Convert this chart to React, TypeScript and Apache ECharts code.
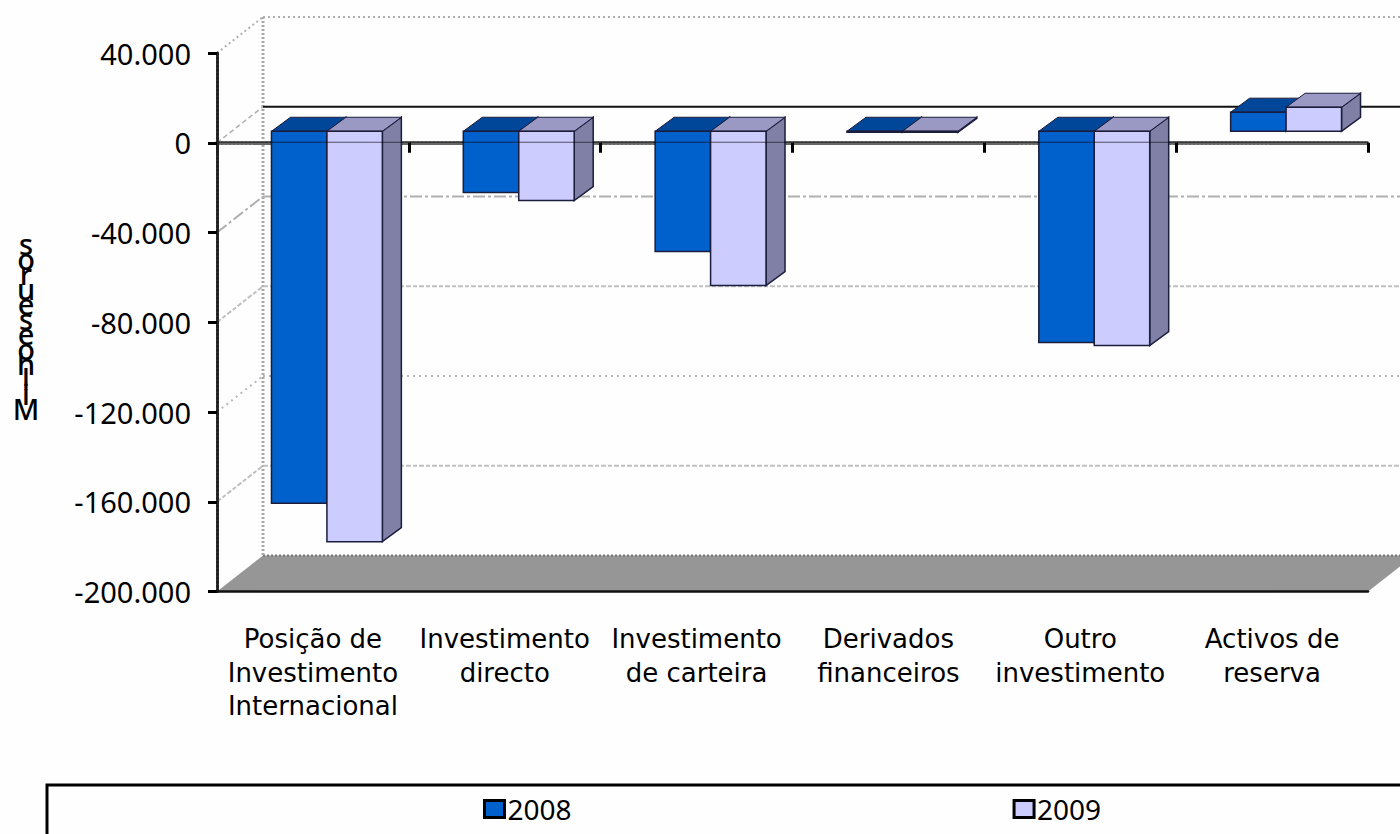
import React, { useEffect, useRef } from "react";
import * as echarts from "echarts";

const categories = [
  "Posição de\nInvestimento\nInternacional",
  "Investimento\ndirecto",
  "Investimento\nde carteira",
  "Derivados\nfinanceiros",
  "Outro\ninvestimento",
  "Activos de\nreserva",
];
const values2008 = [-165800, -27300, -53600, -500, -94200, 8500];
const values2009 = [-182900, -30900, -68800, -500, -95500, 10700];
const yTicks = [40000, 0, -40000, -80000, -120000, -160000, -200000];
const yTitle = "s\no\nr\nu\ne\ns\ne\no\nh\nl\ni\nM";
const FONT = "'DejaVu Sans'";
const NUM_FONT = "'Noto Sans'";

const WALL_DX = 46;
const WALL_DY = -36;
const PLANE_DY = -11.5;
const BAR_SHIFT = 14;
const BAR_DX = 19;
const BAR_DY = -14;
const BAR_RATIO = 0.289;

const gridStyles: Record<number, { color: string; dash: number[] | null; width: number }> = {
  40000: { color: "#b0b0b0", dash: [2, 3], width: 2 },
  0: { color: "#b0b0b0", dash: [5, 3], width: 1.5 },
  [-40000]: { color: "#b0b0b0", dash: [12, 3, 3, 3], width: 2 },
  [-80000]: { color: "#c0c0c0", dash: [5, 2, 4, 2], width: 2 },
  [-120000]: { color: "#b8b8b8", dash: [2, 4], width: 2 },
  [-160000]: { color: "#c0c0c0", dash: [5, 2, 4, 2], width: 2 },
};

function plotEdges(api: any) {
  const band = api.size([1, 0])[0];
  return {
    left: api.coord([0, 0])[0] - band / 2,
    right: api.coord([categories.length - 1, 0])[0] + band / 2,
  };
}

function renderScenery(_p: any, api: any) {
  const { left, right } = plotEdges(api);
  const yAt = (v: number) => api.coord([0, v])[1];
  const bottom = yAt(-200000);
  const top = yAt(40000);
  const children: any[] = [
    {
      type: "polygon",
      shape: {
        points: [
          [left, bottom],
          [left + WALL_DX, bottom + WALL_DY],
          [right + WALL_DX, bottom + WALL_DY],
          [right, bottom],
        ],
      },
      style: { fill: "#969696" },
    },
    {
      type: "line",
      shape: { x1: left + WALL_DX, y1: bottom + WALL_DY, x2: right + WALL_DX, y2: bottom + WALL_DY },
      style: { stroke: "#777", lineWidth: 2, lineDash: [2, 2] },
    },
    {
      type: "line",
      shape: { x1: left + WALL_DX, y1: top + WALL_DY, x2: left + WALL_DX, y2: bottom + WALL_DY },
      style: { stroke: "#a8a8a8", lineWidth: 3, lineDash: [2, 2] },
    },
  ];
  yTicks.forEach((v) => {
    const s = gridStyles[v];
    if (!s) return;
    const y = yAt(v);
    children.push({
      type: "line",
      shape: { x1: left, y1: y, x2: left + WALL_DX, y2: y + WALL_DY },
      style: { stroke: s.color, lineWidth: s.width, lineDash: s.dash },
    });
    children.push({
      type: "line",
      shape: { x1: left + WALL_DX, y1: y + WALL_DY, x2: right + WALL_DX, y2: y + WALL_DY },
      style:
        v === 0
          ? { stroke: "#111", lineWidth: 2 }
          : { stroke: s.color, lineWidth: s.width, lineDash: s.dash },
    });
  });
  return { type: "group", children };
}

function renderOverlay(_p: any, api: any) {
  const { left, right } = plotEdges(api);
  const y = api.coord([0, 0])[1] - 0.5;
  return {
    type: "line",
    shape: { x1: left, y1: y, x2: right, y2: y },
    style: { stroke: "#000", lineWidth: 1, opacity: 0.6 },
  };
}

const makeBar =
  (slot: number, front: string, topColor: string, sideColor: string) => (_p: any, api: any) => {
    const cat = api.value(0);
    const val = api.value(1);
    const base = api.coord([cat, 0]);
    const tip = api.coord([cat, val]);
    const w = api.size([1, 0])[0] * BAR_RATIO;
    const x0 = base[0] + BAR_SHIFT + slot * w;
    const x1 = x0 + w;
    const y0 = Math.min(base[1], tip[1]) + PLANE_DY;
    const y1 = Math.max(base[1], tip[1]) + PLANE_DY;
    const stroke = { stroke: "#1c1c3c", lineWidth: 1.5 };
    return {
      type: "group",
      children: [
        {
          type: "polygon",
          shape: {
            points: [
              [x1, y0],
              [x1 + BAR_DX, y0 + BAR_DY],
              [x1 + BAR_DX, y1 + BAR_DY],
              [x1, y1],
            ],
          },
          style: { fill: sideColor, ...stroke },
        },
        {
          type: "polygon",
          shape: {
            points: [
              [x0, y0],
              [x0 + BAR_DX, y0 + BAR_DY],
              [x1 + BAR_DX, y0 + BAR_DY],
              [x1, y0],
            ],
          },
          style: { fill: topColor, stroke: "#1c1c3c", lineWidth: 1 },
        },
        {
          type: "rect",
          shape: { x: x0, y: y0, width: w, height: y1 - y0 },
          style: { fill: front, ...stroke },
        },
      ],
    };
  };

export default function App() {
  const ref = useRef<HTMLDivElement>(null);
  useEffect(() => {
    const chart = echarts.init(ref.current!, undefined, { renderer: "svg" });
    chart.setOption({
      animation: false,
      backgroundColor: "#fefefe",
      textStyle: { fontFamily: FONT },
      grid: { left: 217, top: 53, width: 1151, height: 538.5 },
      legend: {
        data: ["2008", "2009"],
        left: 478,
        top: 790,
        itemWidth: 20,
        itemHeight: 17,
        itemGap: 441,
        icon: "rect",
        itemStyle: { borderColor: "#000", borderWidth: 3 },
        textStyle: { fontFamily: NUM_FONT, fontSize: 28, color: "#000", padding: [0, 0, 0, -2] },
      },
      xAxis: [
        {
          type: "category",
          data: categories,
          position: "bottom",
          z: 5,
          axisLine: { onZero: false, lineStyle: { color: "#111", width: 2.5 } },
          axisTick: { show: false },
          axisLabel: {
            color: "#000",
            fontFamily: FONT,
            fontSize: 26,
            lineHeight: 33.5,
            margin: 31,
            interval: 0,
            hideOverlap: false,
          },
        },
        {
          type: "category",
          data: categories,
          position: "top",
          z: 1,
          axisLine: { onZero: true, lineStyle: { color: "#666", width: 4, type: [2, 2] } },
          axisTick: { show: true, inside: true, length: 10, lineStyle: { color: "#000", width: 3 } },
          axisLabel: { show: false },
        },
      ],
      yAxis: {
        type: "value",
        min: -200000,
        max: 40000,
        interval: 40000,
        z: 4,
        axisLine: { show: true, onZero: false, lineStyle: { color: "#222", width: 3, type: [3, 1] } },
        axisTick: { show: true, length: 9, lineStyle: { color: "#000", width: 3 } },
        axisLabel: {
          color: "#000",
          fontFamily: NUM_FONT,
          fontSize: 29,
          margin: 26,
          formatter: (v: number) =>
            v === 0 ? "0" : `${v < 0 ? "-" : ""}${Math.abs(v) / 1000}.000`,
        },
        splitLine: { show: false },
      },
      series: [
        {
          name: "scenery",
          type: "custom",
          z: 0,
          silent: true,
          clip: false,
          renderItem: renderScenery,
          data: [[0, 0]],
          encode: { x: 0, y: 1 },
        },
        {
          name: "2008",
          type: "custom",
          z: 2,
          clip: false,
          itemStyle: { color: "#0060cc" },
          renderItem: makeBar(-1, "#0060cc", "#00479a", "#00479a"),
          data: values2008.map((v, i) => [i, v]),
          encode: { x: 0, y: 1 },
        },
        {
          name: "2009",
          type: "custom",
          z: 2,
          clip: false,
          itemStyle: { color: "#ccccff" },
          renderItem: makeBar(0, "#ccccff", "#9999c4", "#8080a6"),
          data: values2009.map((v, i) => [i, v]),
          encode: { x: 0, y: 1 },
        },
        {
          name: "zero",
          type: "custom",
          z: 3,
          silent: true,
          clip: false,
          renderItem: renderOverlay,
          data: [[0, 0]],
          encode: { x: 0, y: 1 },
        },
      ],
      graphic: [
        {
          type: "rect",
          shape: { x: 47, y: 785, width: 1400, height: 100 },
          style: { fill: "none", stroke: "#000", lineWidth: 3 },
          z: -1,
        },
        {
          type: "text",
          x: 26,
          y: 326,
          style: {
            text: yTitle,
            fontFamily: NUM_FONT,
            fontSize: 29,
            fontWeight: 500,
            lineHeight: 15,
            fill: "#000",
            textAlign: "center",
            textVerticalAlign: "middle",
          },
        },
      ],
    });
    return () => chart.dispose();
  }, []);
  return (
    <div
      ref={ref}
      style={{ position: "absolute", left: 0, top: 0, width: 1400, height: 834 }}
    />
  );
}
